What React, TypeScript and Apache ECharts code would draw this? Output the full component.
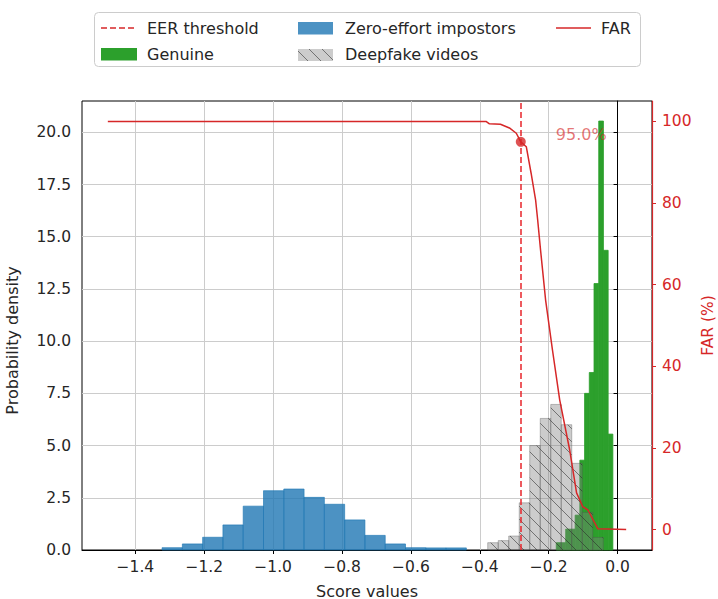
import React, { useEffect, useRef } from 'react';
import * as echarts from 'echarts';

// ---- data ----
const impostorEdges = [-1.3225, -1.2636, -1.2047, -1.1458, -1.0869, -1.028, -0.9691, -0.9102, -0.8513, -0.7924, -0.7335, -0.6746, -0.6157, -0.5568, -0.4979, -0.439];
const impostorDensity = [0.11, 0.29, 0.61, 1.2, 2.1, 2.84, 2.92, 2.52, 2.19, 1.44, 0.7, 0.29, 0.11, 0.1, 0.1];

const deepfakeEdges = [-0.377, -0.3465, -0.316, -0.2855, -0.255, -0.2245, -0.194, -0.1635, -0.133, -0.1025, -0.072, -0.0415];
const deepfakeDensity = [0.35, 0.45, 0.67, 2.26, 5.0, 6.3, 6.97, 6.0, 4.15, 1.8, 0.6];

const genuineEdges = [-0.178, -0.1643, -0.1506, -0.1369, -0.1232, -0.1095, -0.0958, -0.0821, -0.0684, -0.0547, -0.041, -0.0273, -0.0136];
const genuineDensity = [0.35, 0.35, 1.0, 1.0, 1.67, 4.3, 7.5, 8.5, 12.76, 20.54, 14.35, 5.55];

const farScores = [-1.48, -0.382, -0.372, -0.34, -0.314, -0.294, -0.281, -0.265, -0.251, -0.238, -0.232, -0.2236, -0.209, -0.189, -0.168, -0.139, -0.119, -0.101, -0.086, -0.057, 0.025];
const farPercent = [100, 100, 99.4, 99.3, 98.4, 97.1, 95.0, 93.8, 87.3, 80.8, 75.9, 68.5, 56.3, 44, 31.8, 19.5, 9.0, 5.6, 4.8, 0.2, 0];

const eerThreshold = -0.281;
const eerFAR = 95.0;

const xTicks = [-1.4, -1.2, -1.0, -0.8, -0.6, -0.4, -0.2, 0.0];
const densityTicks = [0, 2.5, 5, 7.5, 10, 12.5, 15, 17.5, 20];
const farTicks = [0, 20, 40, 60, 80, 100];

const FONT = 'DejaVu Sans';
const TEXT = '#262626';
const RED = '#d62728';
const BLUE = 'rgba(31,119,180,0.8)';
const GREEN = '#2ca02c';
const GREY = 'rgba(128,128,128,0.4)';
const HATCH = 'rgba(40,40,40,0.55)';
const TICK_FS = 15.5;
const LABEL_FS = 16;

function toBins(edges: number[], dens: number[]) {
  return dens.map((d, i) => [edges[i], edges[i + 1], d]);
}

function hatchLines(X0: number, Y0: number, X1: number, Y1: number, s: number) {
  const out: any[] = [];
  const cMin = Math.ceil((Y0 - X1) / s) * s;
  const cMax = Y1 - X0;
  for (let c = cMin; c <= cMax; c += s) {
    const xa = Math.max(X0, Y0 - c);
    const xb = Math.min(X1, Y1 - c);
    if (xb > xa) {
      out.push({
        type: 'line',
        shape: { x1: xa, y1: xa + c, x2: xb, y2: xb + c },
        style: { stroke: HATCH, lineWidth: 1 },
      });
    }
  }
  return out;
}

function histRender(fill: string, stroke: string, hatch: boolean) {
  return (params: any, api: any) => {
    const x0 = api.value(0);
    const x1 = api.value(1);
    const h = api.value(2);
    const tl = api.coord([x0, h]);
    const br = api.coord([x1, 0]);
    const X0 = tl[0], Y0 = tl[1], X1 = br[0], Y1 = br[1];
    const children: any[] = [
      {
        type: 'rect',
        shape: { x: X0, y: Y0, width: X1 - X0, height: Y1 - Y0 },
        style: { fill, stroke, lineWidth: 0.8 },
      },
    ];
    if (hatch) children.push(...hatchLines(X0, Y0, X1, Y1, 13));
    return { type: 'group', children };
  };
}

const fmtX = (v: number) => (v < -1e-9 ? '\u2212' : '') + Math.abs(v).toFixed(1);

export default function App() {
  const ref = useRef<HTMLDivElement>(null);
  useEffect(() => {
    if (!ref.current) return;
    const chart = echarts.init(ref.current, null, { renderer: 'svg' });
    const farData = farScores.map((x, i) => [x, farPercent[i]]);

    const legendText = (x: number, y: number, text: string) => ({
      type: 'text',
      x,
      y,
      style: { text, fill: TEXT, fontSize: LABEL_FS, fontFamily: FONT, verticalAlign: 'middle', align: 'left' },
    });

    chart.setOption({
      animation: false,
      textStyle: { fontFamily: FONT },
      grid: {
        left: 82, top: 101, width: 570, height: 449,
        outerBoundsMode: 'none', containLabel: false,
        show: true, borderColor: '#000', borderWidth: 1, backgroundColor: 'transparent',
      },
      xAxis: {
        type: 'value',
        min: -1.555,
        max: 0.1,
        name: 'Score values',
        nameLocation: 'middle',
        nameGap: 33,
        nameMoveOverlap: false,
        nameTextStyle: { fontSize: LABEL_FS, color: TEXT, fontFamily: FONT },
        axisLine: { show: true, onZero: false, lineStyle: { color: '#000', width: 1 } },
        axisTick: { show: true, length: 4, lineStyle: { color: '#000' }, customValues: xTicks },
        axisLabel: { customValues: xTicks, formatter: fmtX, fontSize: TICK_FS, color: TEXT, margin: 9, fontFamily: FONT },
        splitLine: { show: true, lineStyle: { color: '#cccccc', width: 1 } },
      },
      yAxis: [
        {
          type: 'value',
          min: 0,
          max: 21.5,
          name: 'Probability density',
          nameLocation: 'middle',
          nameGap: 62,
          nameMoveOverlap: false,
          nameTextStyle: { fontSize: LABEL_FS, color: TEXT, fontFamily: FONT, padding: [0, 30, 0, 0] },
          axisLine: { show: true, lineStyle: { color: '#000', width: 1 } },
          axisTick: { show: true, length: 4, lineStyle: { color: '#000' }, customValues: densityTicks },
          axisLabel: { customValues: densityTicks, formatter: (v: number) => v.toFixed(1), fontSize: TICK_FS, color: TEXT, margin: 11, fontFamily: FONT },
          splitLine: { show: true, lineStyle: { color: '#cccccc', width: 1 } },
        },
        {
          type: 'value',
          position: 'right',
          min: -5,
          max: 105,
          name: 'FAR (%)',
          nameLocation: 'middle',
          nameGap: 48,
          nameRotate: 90,
          nameMoveOverlap: false,
          nameTextStyle: { fontSize: 15.5, color: RED, fontFamily: FONT },
          axisLine: { show: true, lineStyle: { color: RED, width: 1.2 } },
          axisTick: { show: true, length: 4, lineStyle: { color: RED }, customValues: farTicks },
          axisLabel: { customValues: farTicks, fontSize: TICK_FS, color: RED, margin: 10, fontFamily: FONT },
          splitLine: { show: false },
        },
      ],
      series: [
        {
          name: 'Zero-effort impostors',
          type: 'custom',
          renderItem: histRender(BLUE, 'rgba(31,119,180,0.8)', false),
          encode: { x: [0, 1], y: 2 },
          data: toBins(impostorEdges, impostorDensity),
          z: 2,
        },
        {
          name: 'Genuine',
          type: 'custom',
          renderItem: histRender(GREEN, GREEN, false),
          encode: { x: [0, 1], y: 2 },
          data: toBins(genuineEdges, genuineDensity),
          z: 3,
        },
        {
          name: 'Deepfake videos',
          type: 'custom',
          renderItem: histRender(GREY, 'rgba(80,80,80,0.45)', true),
          encode: { x: [0, 1], y: 2 },
          data: toBins(deepfakeEdges, deepfakeDensity),
          z: 4,
        },
        {
          name: 'FAR',
          type: 'line',
          yAxisIndex: 1,
          data: farData,
          showSymbol: false,
          symbol: 'none',
          lineStyle: { color: RED, width: 1.5 },
          z: 6,
          markLine: {
            silent: true,
            symbol: 'none',
            label: { show: false },
            lineStyle: { color: '#e8252b', width: 1.5, type: [6, 3] },
            data: [{ xAxis: eerThreshold }],
          },
        },
        {
          name: 'EER point',
          type: 'scatter',
          yAxisIndex: 1,
          data: [[eerThreshold, eerFAR]],
          symbol: 'circle',
          symbolSize: 10,
          itemStyle: { color: RED },
          z: 7,
          label: {
            show: true,
            formatter: eerFAR.toFixed(1) + '%',
            position: [40, -10],
            align: 'left',
            verticalAlign: 'top',
            fontSize: LABEL_FS,
            color: 'rgba(214,39,40,0.8)',
            fontFamily: FONT,
          },
        },
      ],
      graphic: [
        { type: 'rect', shape: { x: 94.5, y: 12.5, width: 546, height: 54, r: 4 }, style: { fill: '#fff', stroke: '#cccccc', lineWidth: 1 } },
        { type: 'line', shape: { x1: 101, y1: 28, x2: 137, y2: 28 }, style: { stroke: RED, lineWidth: 1.5, lineDash: [6, 3] } },
        legendText(147, 28.5, 'EER threshold'),
        { type: 'rect', shape: { x: 298, y: 22, width: 35, height: 12.5 }, style: { fill: BLUE } },
        legendText(345, 28.5, 'Zero-effort impostors'),
        { type: 'line', shape: { x1: 556, y1: 28, x2: 591, y2: 28 }, style: { stroke: RED, lineWidth: 1.5 } },
        legendText(601, 28.5, 'FAR'),
        { type: 'rect', shape: { x: 101, y: 48, width: 36, height: 12.5 }, style: { fill: GREEN } },
        legendText(147, 54.5, 'Genuine'),
        { type: 'rect', shape: { x: 298, y: 49, width: 35, height: 12 }, style: { fill: GREY } },
        ...hatchLines(298, 49, 333, 61, 13),
        legendText(345, 54.5, 'Deepfake videos'),
      ],
    });
    return () => chart.dispose();
  }, []);
  return <div ref={ref} style={{ width: 718, height: 599, position: 'absolute', left: 0, top: 0 }} />;
}
